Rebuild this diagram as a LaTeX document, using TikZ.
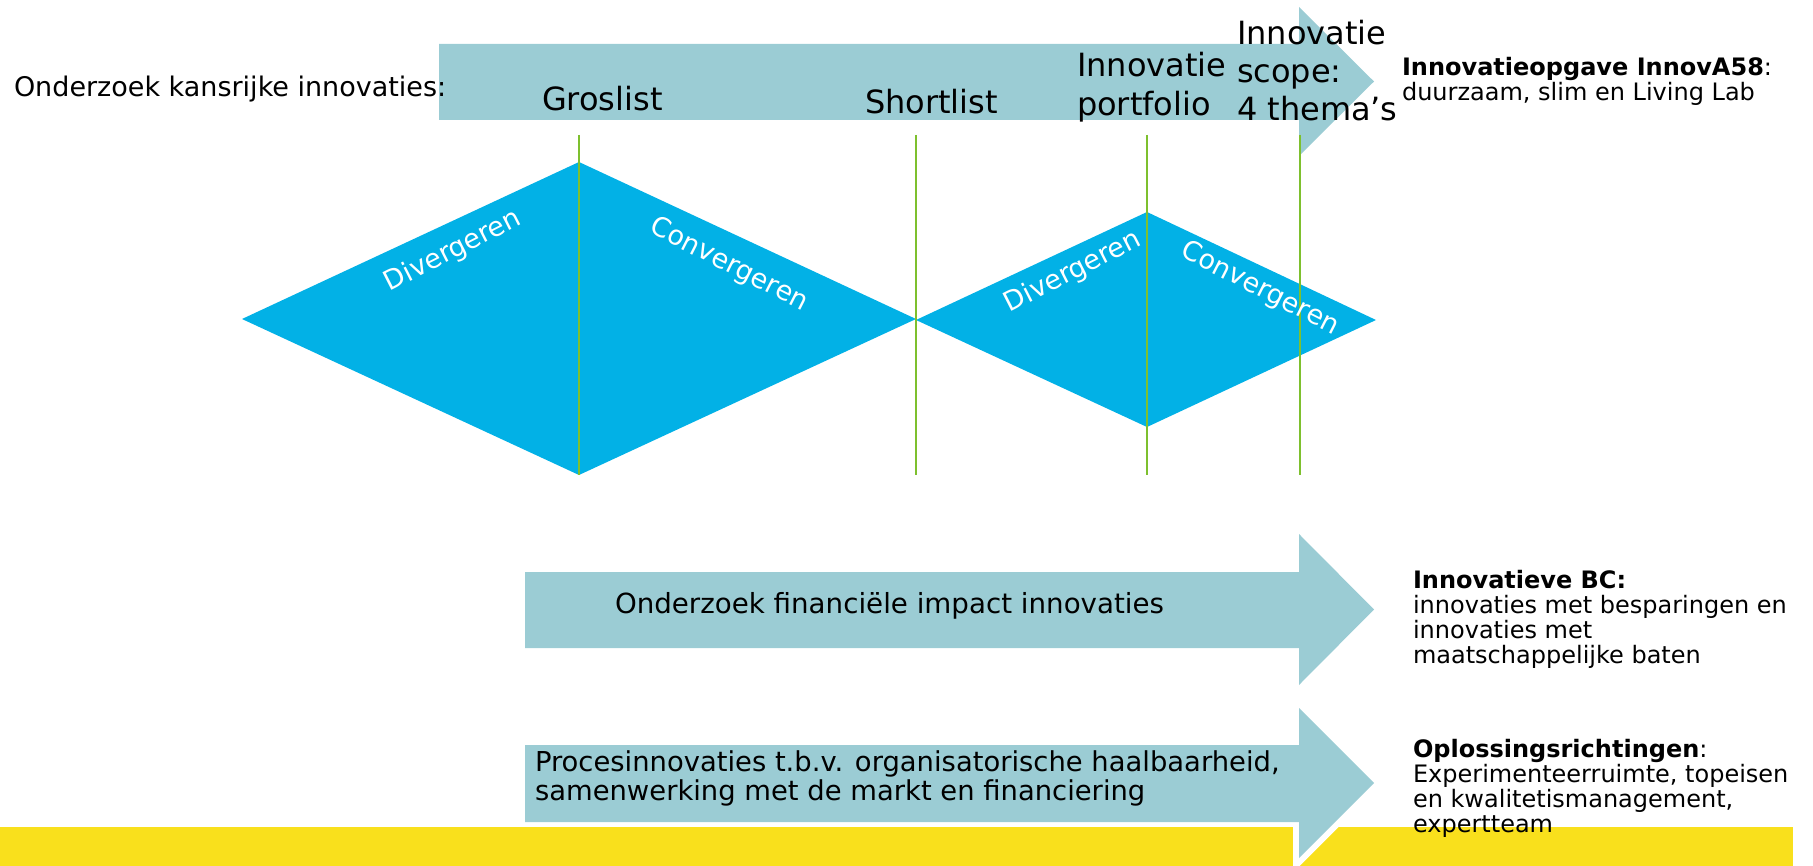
\documentclass[tikz,border=0pt]{standalone}
\usepackage{fontspec}
\setmainfont{DejaVu Sans}
\definecolor{arrowteal}{RGB}{155,204,212}
\definecolor{diacyan}{RGB}{2,177,230}
\definecolor{linegreen}{RGB}{126,192,46}
\definecolor{baryellow}{RGB}{249,224,28}
\begin{document}
\begin{tikzpicture}[x=1pt,y=-1pt,
  arrowbody/.style={fill=arrowteal},
  arrowhalo/.style={draw=white,line width=12pt,line join=miter},
  diamondbox/.style={fill=diacyan},
  marker/.style={draw=linegreen,line width=2pt},
  txt/.style={inner sep=0pt,outer sep=0pt,anchor=base west,text=black},
  dtext/.style={inner sep=0pt,text=white,font=\fontsize{27}{30}\selectfont},
  fbig/.style={font=\fontsize{32}{37.5}\selectfont},
  fmid/.style={font=\fontsize{27.7}{29.5}\selectfont},
  fsmall/.style={font=\fontsize{24}{25.3}\selectfont}]
\useasboundingbox (0,0) rectangle (1813,866);

% yellow band
\fill[baryellow] (0,827) rectangle (1793,866);

% arrows
\fill[arrowbody] (439,44) -- (1299,44) -- (1299,7) -- (1374,81.5) -- (1299,156) -- (1299,120) -- (439,120) -- cycle;
\fill[arrowbody] (525,572) -- (1299,572) -- (1299,534) -- (1374,609.5) -- (1299,685) -- (1299,648) -- (525,648) -- cycle;
\path[arrowhalo] (1299,818) -- (1299,858) -- (1374,783);
\fill[arrowbody] (525,745) -- (1299,745) -- (1299,708) -- (1374,783) -- (1299,858) -- (1299,822) -- (525,822) -- cycle;

% diamonds
\fill[diamondbox] (242,319) -- (579,162) -- (916,319) -- (579,475) -- cycle;
\fill[diamondbox] (916,320) -- (1147,212) -- (1376,320) -- (1147,427) -- cycle;

% milestone lines
\coordinate (g1t) at (579,135);  \coordinate (g1b) at (579,475);
\coordinate (g2t) at (916,135);  \coordinate (g2b) at (916,475);
\coordinate (g3t) at (1147,135); \coordinate (g3b) at (1147,475);
\coordinate (g4t) at (1300,135); \coordinate (g4b) at (1300,475);
\draw[marker] (g1t) -- (g1b);
\draw[marker] (g2t) -- (g2b);
\draw[marker] (g3t) -- (g3b);
\draw[marker] (g4t) -- (g4b);

% diamond labels
\node[dtext,rotate=27]  (div1) at (453,251) {Divergeren};
\node[dtext,rotate=-27] (con1) at (729,265) {Convergeren};
\node[dtext,rotate=27]  (div2) at (1073,272) {Divergeren};
\node[dtext,rotate=-27] (con2) at (1260,289) {Convergeren};

% top labels
\node[txt,font=\fontsize{27}{30}\selectfont] (kans) at (14,97) {Onderzoek kansrijke innovaties:};
\node[txt,fbig] (gros) at (542,111) {Groslist};
\node[txt,fbig] (short) at (865,114) {Shortlist};
\node[txt,font=\fontsize{32}{39}\selectfont] (portf) at (1077,77) {\vtop{\hbox{Innovatie}\hbox{portfolio}}};
\node[txt,font=\fontsize{32}{38}\selectfont] (scope) at (1237,45) {\vtop{\hbox{Innovatie}\hbox{scope:}\hbox{4 thema’s}}};

% right texts
\node[txt,font=\fontsize{24}{24.5}\selectfont] (opgave) at (1402,76) {\vtop{\hbox{\textbf{Innovatieopgave InnovA58}:}\hbox{duurzaam, slim en Living Lab}}};
\node[txt,fsmall] (bc) at (1413,588) {\vtop{\hbox{\textbf{Innovatieve BC:}}\hbox{innovaties met besparingen en}\hbox{innovaties met}\hbox{maatschappelijke baten}}};
\node[txt,fsmall] (oplos) at (1413,757) {\vtop{\hbox{\textbf{Oplossingsrichtingen}:}\hbox{Experimenteerruimte, topeisen}\hbox{en kwalitetismanagement,}\hbox{expertteam}}};

% arrow texts
\node[txt,fmid] (fin) at (615,613) {Onderzoek financiële impact innovaties};
\node[txt,font=\fontsize{27.4}{29.5}\selectfont] (proc) at (535,771) {\vtop{\hbox{Procesinnovaties t.b.v. organisatorische haalbaarheid,}\hbox{samenwerking met de markt en financiering}}};
\end{tikzpicture}
\end{document}
